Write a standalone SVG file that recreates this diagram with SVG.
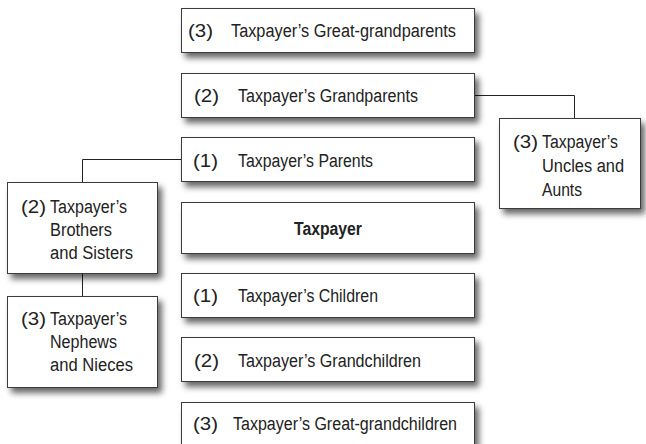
<svg xmlns="http://www.w3.org/2000/svg" width="646" height="444" viewBox="0 0 646 444">
<defs>
<filter id="sh" x="-10%" y="-20%" width="130%" height="160%">
<feGaussianBlur in="SourceAlpha" stdDeviation="3"/>
<feOffset dx="4" dy="5" result="b"/>
<feComponentTransfer><feFuncA type="linear" slope="0.6"/></feComponentTransfer>
<feMerge><feMergeNode/><feMergeNode in="SourceGraphic"/></feMerge>
</filter>
<style>
.box{fill:#fff;stroke:#3a3a3a;stroke-width:1;filter:url(#sh)}
text{font-family:"Liberation Sans",Arial,sans-serif;font-size:18px;fill:#222}
.b{font-weight:bold;text-anchor:middle}
.c{fill:none;stroke:#222;stroke-width:1}
</style>
</defs>
<rect width="646" height="444" fill="#fff"/>
<g id="connectors">
<path class="c" d="M474.5 95.5H574.5V118"/>
<path class="c" d="M182 159.5H82.5V182"/>
<path class="c" d="M82.5 274V296"/>
</g>
<g id="great-grandparents"><rect class="box" x="181.5" y="8.5" width="293" height="44"/><text x="188" y="37" textLength="25" lengthAdjust="spacingAndGlyphs">(3)</text><text x="231" y="37" textLength="225" lengthAdjust="spacingAndGlyphs">Taxpayer’s Great-grandparents</text></g>
<g id="grandparents"><rect class="box" x="181.5" y="73.5" width="293" height="44"/><text x="194" y="102" textLength="25" lengthAdjust="spacingAndGlyphs">(2)</text><text x="238" y="102" textLength="180" lengthAdjust="spacingAndGlyphs">Taxpayer’s Grandparents</text></g>
<g id="uncles"><rect class="box" x="499.5" y="118.5" width="141" height="90"/><text x="513" y="148" textLength="25" lengthAdjust="spacingAndGlyphs">(3)</text><text x="542" y="148" textLength="76" lengthAdjust="spacingAndGlyphs">Taxpayer’s</text><text x="542" y="172" textLength="82" lengthAdjust="spacingAndGlyphs">Uncles and</text><text x="542" y="196" textLength="40" lengthAdjust="spacingAndGlyphs">Aunts</text></g>
<g id="parents"><rect class="box" x="181.5" y="137.5" width="293" height="44"/><text x="193" y="167" textLength="25" lengthAdjust="spacingAndGlyphs">(1)</text><text x="238" y="167" textLength="135" lengthAdjust="spacingAndGlyphs">Taxpayer’s Parents</text></g>
<g id="brothers"><rect class="box" x="7.5" y="182.5" width="150" height="91"/><text x="21" y="213" textLength="25" lengthAdjust="spacingAndGlyphs">(2)</text><text x="50" y="213" textLength="77" lengthAdjust="spacingAndGlyphs">Taxpayer’s</text><text x="50" y="236" textLength="62" lengthAdjust="spacingAndGlyphs">Brothers</text><text x="50" y="259" textLength="83" lengthAdjust="spacingAndGlyphs">and Sisters</text></g>
<g id="taxpayer"><rect class="box" x="181.5" y="202.5" width="293" height="51"/><text class="b" x="328" y="235" textLength="68" lengthAdjust="spacingAndGlyphs">Taxpayer</text></g>
<g id="nephews"><rect class="box" x="7.5" y="296.5" width="150" height="91"/><text x="21" y="325" textLength="25" lengthAdjust="spacingAndGlyphs">(3)</text><text x="50" y="325" textLength="77" lengthAdjust="spacingAndGlyphs">Taxpayer’s</text><text x="50" y="348" textLength="67" lengthAdjust="spacingAndGlyphs">Nephews</text><text x="50" y="371" textLength="83" lengthAdjust="spacingAndGlyphs">and Nieces</text></g>
<g id="children"><rect class="box" x="181.5" y="273.5" width="293" height="44"/><text x="193" y="302" textLength="25" lengthAdjust="spacingAndGlyphs">(1)</text><text x="238" y="302" textLength="140" lengthAdjust="spacingAndGlyphs">Taxpayer’s Children</text></g>
<g id="grandchildren"><rect class="box" x="181.5" y="337.5" width="293" height="44"/><text x="194" y="367" textLength="25" lengthAdjust="spacingAndGlyphs">(2)</text><text x="238" y="367" textLength="183" lengthAdjust="spacingAndGlyphs">Taxpayer’s Grandchildren</text></g>
<g id="great-grandchildren"><rect class="box" x="181.5" y="402.5" width="293" height="44"/><text x="193" y="430" textLength="25" lengthAdjust="spacingAndGlyphs">(3)</text><text x="233" y="430" textLength="224" lengthAdjust="spacingAndGlyphs">Taxpayer’s Great-grandchildren</text></g>
</svg>
